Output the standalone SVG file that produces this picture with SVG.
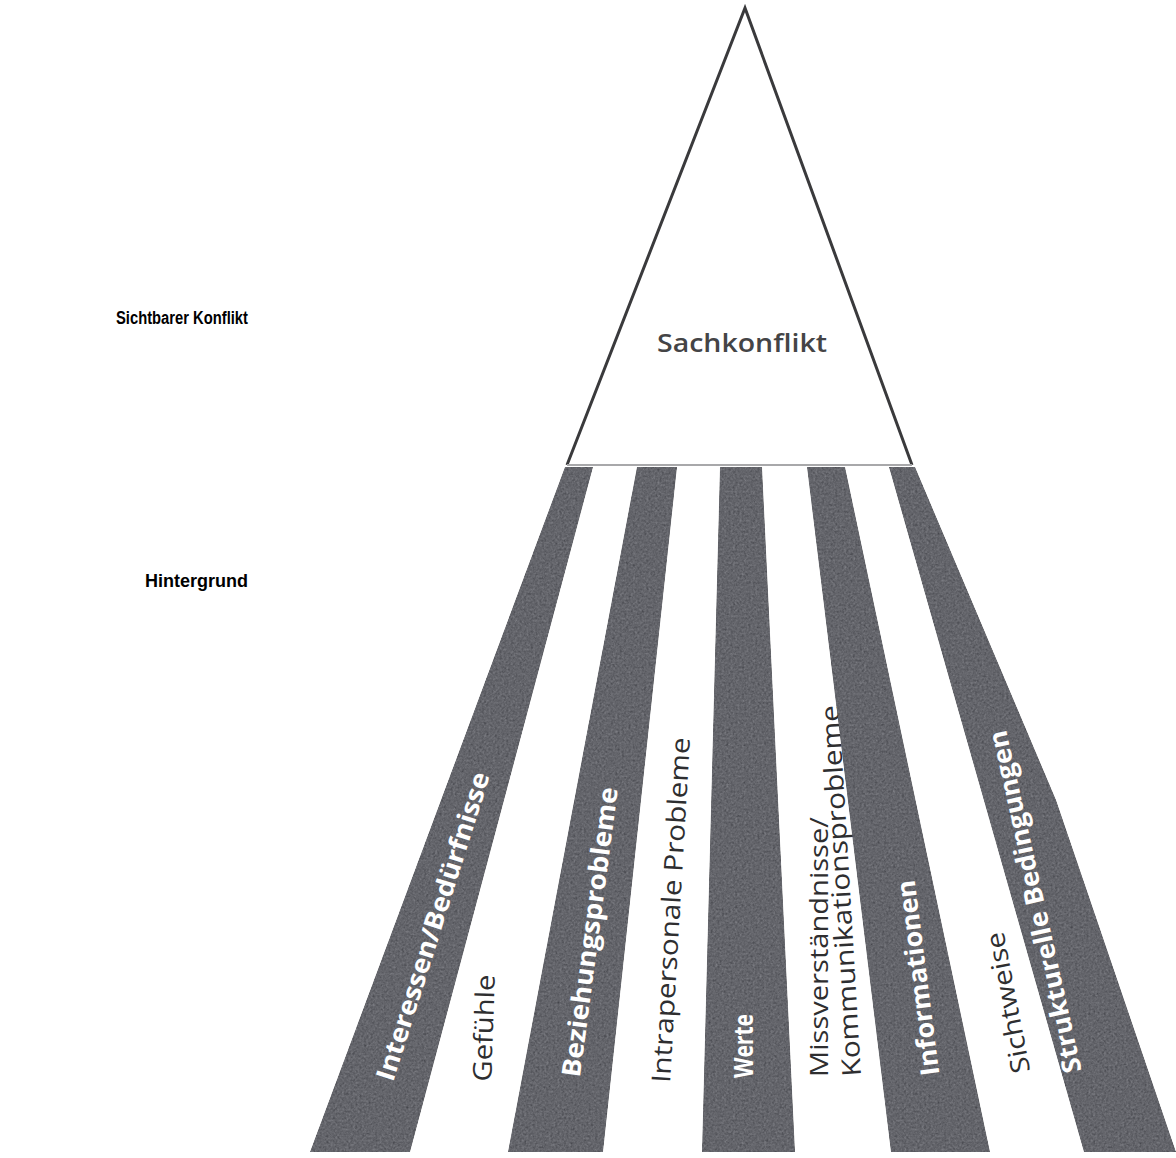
<svg xmlns="http://www.w3.org/2000/svg" width="1176" height="1158" viewBox="0 0 1176 1158">
<defs>
<filter id="grain" x="0" y="0" width="100%" height="100%" color-interpolation-filters="sRGB">
<feTurbulence type="fractalNoise" baseFrequency="0.45" numOctaves="2" seed="7" result="n"/>
<feColorMatrix in="n" type="matrix" values="0.33 0.33 0.33 0 0  0.33 0.33 0.33 0 0  0.33 0.33 0.33 0 0  0 0 0 0 1" result="g"/>
<feComposite in="SourceGraphic" in2="g" operator="arithmetic" k1="0" k2="1" k3="0.4" k4="-0.2" result="c"/>
<feComposite in="c" in2="SourceAlpha" operator="in"/>
</filter>
</defs>
<style>
.dark{fill:#64656b;filter:url(#grain)}
.side{font-family:"Liberation Sans",Arial,sans-serif;font-weight:bold;font-size:18px;fill:#000}
.lw{font-family:"Open Sans","Noto Sans",sans-serif;font-weight:700;font-size:26px;fill:#ffffff;text-anchor:middle;dominant-baseline:central}
.ld{font-family:"Open Sans","Noto Sans",sans-serif;font-weight:500;font-size:26px;fill:#2e2e30;text-anchor:middle;dominant-baseline:central}
</style>
<rect width="1176" height="1158" fill="#ffffff"/>

<g id="label-sichtbar"><text class="side" x="116" y="324" font-size="16.5" textLength="132" lengthAdjust="spacingAndGlyphs">Sichtbarer Konflikt</text></g>
<g id="label-hintergrund"><text class="side" x="248" y="587" text-anchor="end">Hintergrund</text></g>

<g id="sachkonflikt">
<polygon points="745,8 567,465 912,465" fill="#ffffff" stroke="none"/>
<polyline points="567,465 745,8 912,465" fill="none" stroke="#3a3a3c" stroke-width="3" stroke-linejoin="miter"/>
<line x1="567" y1="465" x2="912" y2="465" stroke="#a8a8aa" stroke-width="2"/>
<text x="742" y="352" text-anchor="middle" font-family="'Open Sans','Noto Sans',sans-serif" font-weight="600" font-size="26" fill="#444446" textLength="170" lengthAdjust="spacingAndGlyphs">Sachkonflikt</text>
</g>

<g id="interessen">
<polygon class="dark" points="565,467 593,467 410,1152 310,1152"/>
<text class="lw" transform="translate(432,926) rotate(-72.5)" textLength="322" lengthAdjust="spacingAndGlyphs">Interessen/Bedürfnisse</text>
</g>
<g id="gefuehle">
<text class="ld" transform="translate(483,1028) rotate(-88)" textLength="107" lengthAdjust="spacingAndGlyphs">Gefühle</text>
</g>
<g id="beziehung">
<polygon class="dark" points="637,467 677,467 603,1152 508,1152"/>
<text class="lw" transform="translate(589,932) rotate(-82.5)" textLength="292" lengthAdjust="spacingAndGlyphs">Beziehungsprobleme</text>
</g>
<g id="intrapersonal">
<text class="ld" transform="translate(670,910) rotate(-86.7)" textLength="346" lengthAdjust="spacingAndGlyphs">Intrapersonale Probleme</text>
</g>
<g id="werte">
<polygon class="dark" points="720,467 762,467 795,1152 702,1152"/>
<text class="lw" transform="translate(743,1046) rotate(-90)" font-size="27" textLength="64" lengthAdjust="spacingAndGlyphs">Werte</text>
</g>
<g id="missverstaendnisse">
<text class="ld" transform="translate(818,947) rotate(-90)" textLength="260" lengthAdjust="spacingAndGlyphs">Missverständnisse/</text>
<text class="ld" transform="translate(840,891) rotate(-93.4)" textLength="372" lengthAdjust="spacingAndGlyphs">Kommunikationsprobleme</text>
</g>
<g id="informationen">
<polygon class="dark" points="807,467 845,467 990,1152 891,1152"/>
<text class="lw" transform="translate(917,978) rotate(-97.3)" textLength="197" lengthAdjust="spacingAndGlyphs">Informationen</text>
</g>
<g id="sichtweise">
<text class="ld" transform="translate(1007,1003) rotate(-100.9)" textLength="143" lengthAdjust="spacingAndGlyphs">Sichtweise</text>
</g>
<g id="strukturell">
<polygon class="dark" points="889,467 915,467 1056,800 1176,1152 1084,1152"/>
<text class="lw" transform="translate(1034,902) rotate(-102.5)" textLength="350" lengthAdjust="spacingAndGlyphs">Strukturelle Bedingungen</text>
</g>
</svg>
